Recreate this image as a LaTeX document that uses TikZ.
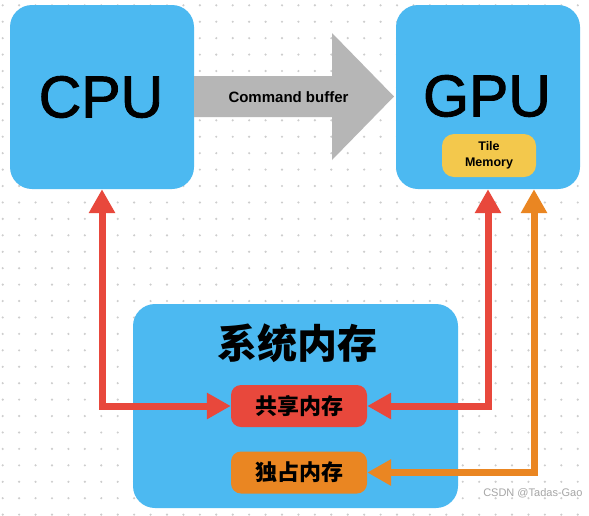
\documentclass[tikz,border=0pt]{standalone}
\usepackage{fontspec}
\setmainfont{Liberation Sans}
\newfontfamily\heavyfont{Liberation Sans}[FakeBold=1.6]
\newfontfamily\cjk{Noto Sans CJK SC}
\usetikzlibrary{arrows.meta,calc}
\definecolor{boxblue}{RGB}{76,185,241}
\definecolor{cmdgray}{RGB}{182,182,182}
\definecolor{memred}{RGB}{232,72,60}
\definecolor{memorange}{RGB}{234,134,34}
\definecolor{tileyellow}{RGB}{243,200,76}
\definecolor{dotgray}{RGB}{205,205,205}
\begin{document}
\begin{tikzpicture}[x=1pt,y=-1pt,
  bigbox/.style={fill=boxblue,draw=none,rounded corners=22pt,minimum width=184pt,minimum height=184pt,inner sep=0pt},
  membox/.style={draw=none,rounded corners=10pt,minimum width=136pt,minimum height=42pt,inner sep=0pt,font=\cjk\bfseries\fontsize{22}{24}\selectfont},
  biglink/.style={line width=7pt,{Triangle[width=25pt,length=24pt]}-{Triangle[width=25pt,length=24pt]}}
]
\useasboundingbox (0,0) rectangle (589,515);
\fill[white] (0,0) rectangle (589,515);
% dot grid
\foreach \i in {0,...,35}{
  \foreach \j in {0,...,31}{
    \fill[dotgray] (2.7+16.43*\i, 5.3+16.43*\j) circle (1.2pt);
  }
}
% CPU and GPU boxes
\node[bigbox] (cpu) at (102,97) {};
\node[font=\heavyfont\fontsize{59}{60}\selectfont] (cputext) at (101,97) {CPU};
\node[bigbox] (gpu) at (488,97) {};
\node[font=\heavyfont\fontsize{59}{60}\selectfont] (gputext) at (487,96) {GPU};
\node[fill=tileyellow,rounded corners=12pt,minimum width=94pt,minimum height=43pt,inner sep=0pt,align=center,font=\bfseries\fontsize{12.5}{16}\selectfont] (tile) at (489,155.5) {Tile\\Memory};
% command buffer arrow
\fill[cmdgray] (194,76) -- (332,76) -- (332,33) -- (394,96.5) -- (332,160) -- (332,117) -- (194,117) -- cycle;
\node[font=\bfseries\fontsize{15}{17}\selectfont] (cmd) at (288.5,97) {Command buffer};
% system memory
\node[fill=boxblue,rounded corners=22pt,minimum width=325pt,minimum height=204pt,inner sep=0pt] (sys) at (295.5,406) {};
\node[font=\cjk\bfseries\fontsize{40}{44}\selectfont] (systitle) at (297,343) {系统内存};
\node[membox,fill=memred] (shared) at (299,406) {共享内存};
\node[membox,fill=memorange] (excl) at (299,472.5) {独占内存};
% connectors
\draw[biglink,memred] (cpu.south) |- (shared.west);
\draw[biglink,memred] (gpu.south) |- (shared.east);
\coordinate (gpuo) at ($(gpu.south)+(46,0)$);
\draw[biglink,memorange] (gpuo) |- (excl.east);
% watermark
\node[text=gray!70,font=\fontsize{11}{12}\selectfont,anchor=east] (wm) at (586,493) {CSDN @Tadas-Gao};
\end{tikzpicture}
\end{document}
